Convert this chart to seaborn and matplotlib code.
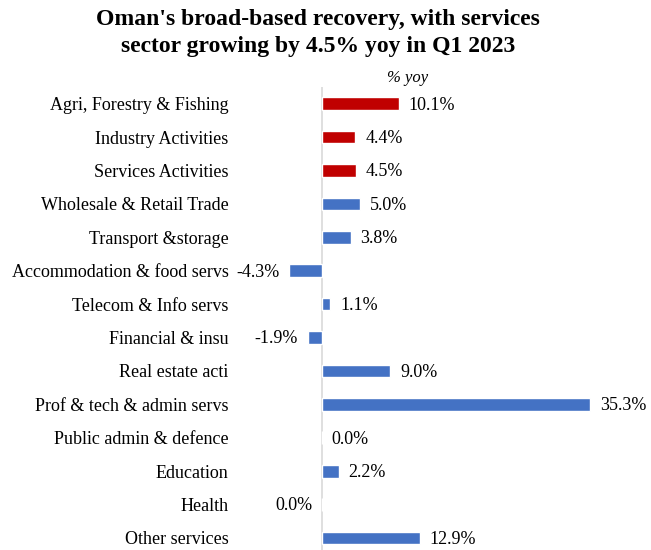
import matplotlib
matplotlib.use("Agg")

import pandas as pd
import matplotlib.pyplot as plt
import seaborn as sns

# =====================
# DATA
# =====================
sectors = [
    "Agri, Forestry & Fishing",
    "Industry Activities",
    "Services Activities",
    "Wholesale & Retail Trade",
    "Transport &storage",
    "Accommodation & food servs",
    "Telecom & Info servs",
    "Financial & insu",
    "Real estate acti",
    "Prof & tech & admin servs",
    "Public admin & defence",
    "Education",
    "Health",
    "Other services",
]
growth = [10.1, 4.4, 4.5, 5.0, 3.8, -4.3, 1.1, -1.9, 9.0, 35.3, 0.0, 2.2, -0.01, 12.9]
group = ["main"] * 3 + ["sub"] * 11

df = pd.DataFrame({"sector": sectors, "growth": growth, "group": group})

# =====================
# STYLE
# =====================
sns.set_style("white")
plt.rcParams["font.family"] = ["Liberation Serif", "DejaVu Serif"]
plt.rcParams["text.color"] = "black"
plt.rcParams["ytick.color"] = "black"

fig = plt.figure(figsize=(6.51, 5.5), dpi=100)
ax = fig.add_axes([230 / 651, 0.0, 396 / 651, 1 - 87 / 550])

sns.barplot(
    data=df,
    x="growth",
    y="sector",
    hue="group",
    palette={"main": "#C00000", "sub": "#4472C4"},
    saturation=1,
    orient="h",
    width=0.38,
    dodge=False,
    legend=False,
    ax=ax,
)

# data labels
for i, v in enumerate(growth):
    txt = f"{abs(v):.1f}%" if round(v, 1) == 0 else f"{v:.1f}%"
    if v >= 0:
        ax.annotate(txt, (v, i), xytext=(7, -1), textcoords="offset points",
                    ha="left", va="center", fontsize=13, clip_on=False)
    else:
        ax.annotate(txt, (v, i), xytext=(-7, -1), textcoords="offset points",
                    ha="right", va="center", fontsize=13, clip_on=False)

ax.axvline(0, color="#D9D9D9", lw=1.2, zorder=0)
ax.set_xlim(-12.1, 40)
ax.set_ylim(13.36, -0.5)

ax.set_xticks([])
ax.set_xlabel("")
ax.set_ylabel("")
ax.tick_params(axis="y", length=0, pad=1, labelsize=13)
sns.despine(ax=ax, left=True, bottom=True)

fig.text(408 / 651, 1 - 78 / 550, "% yoy", style="italic", fontsize=12,
         ha="center", va="center")
fig.text(318 / 651, 1 - 33 / 550,
         "Oman's broad-based recovery, with services\nsector growing by 4.5% yoy in Q1 2023",
         ha="center", va="center", fontsize=17, fontweight="bold", linespacing=1.42)

plt.savefig("out.png", dpi=100)
plt.close()
